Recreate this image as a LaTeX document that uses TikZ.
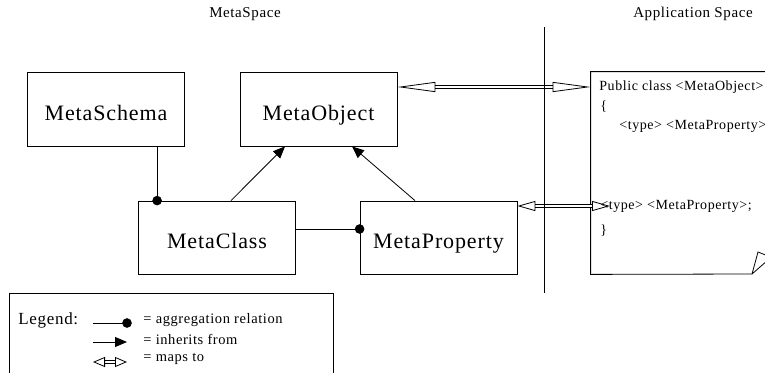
\documentclass[tikz,border=0pt]{standalone}
\usepackage{fontspec}
\setmainfont[LetterSpace=4]{Liberation Serif}
\usetikzlibrary{arrows.meta,calc}

\begin{document}
\begin{tikzpicture}[x=1pt, y=-1pt, line width=0.8pt,
    box/.style = {draw, rectangle, minimum width=157pt, minimum height=74pt,
                  text height=22pt, text depth=0pt, font=\fontsize{22}{26}\selectfont},
    agg/.style = {-{Circle[length=9.5pt]}, shorten >=-4.75pt},
    inh/.style = {-{Triangle[length=12pt, width=10pt]}},
    maps/.style = {double, double distance=2pt,
                   {Triangle[open, length=#1, width=10pt]}-{Triangle[open, length=#1, width=10pt]}},
    maps/.default = 38pt,
    txt/.style = {inner sep=0pt, anchor=west, font=\fontsize{14}{17}\selectfont}]
    \useasboundingbox (0,0) rectangle (765,372);
    \clip (0,0) rectangle (765,372);

    % titles
    \node[font=\fontsize{15}{18}\selectfont] (metaspace) at (245,14) {MetaSpace};
    \node[font=\fontsize{15}{18}\selectfont] (appspace) at (693,14) {Application Space};

    % meta classes
    \node[box] (schema) at (106,109) {MetaSchema};
    \node[box] (object) at (318.5,109) {MetaObject};
    \node[box, minimum height=73pt] (class) at (217,237.5) {MetaClass};
    \node[box, minimum height=73pt] (property) at (438.5,237.5) {MetaProperty};

    % application code page
    \node[minimum width=184pt, minimum height=202pt] (app) at (683,173) {};
    \coordinate (fold) at (752,274);
    \draw (fold) -- (app.south west) -- (app.north west) -- (app.north east);
    \draw (fold) -- ++(6,-22) -- ++(10,4) (fold) -- ++(16,-14);
    \node[txt] (decl) at (599,87) {Public class <MetaObject>};
    \node[txt] (open) at (600,107) {\{};
    \node[txt] (field) at (619,126) {<type> <MetaProperty>};
    \node[txt] (ref) at (600,206) {<type> <MetaProperty>;};
    \node[txt] (close) at (600,231) {\}};

    \coordinate (c1) at ($(class.north west)+(19,0)$);
    \draw[agg] (c1 |- schema.south) -- (c1);
    \draw[agg] ([yshift=8.5pt]class.east) -- ([yshift=8.5pt]property.west);
    \draw[inh] ([xshift=14pt]class.north) -- ([xshift=-33.5pt]object.south);
    \draw[inh] ([xshift=-23.5pt]property.north) -- ([xshift=33.5pt]object.south);

    \draw[maps] (decl.west -| object.east) -- (decl.west -| app.west);
    \draw[maps=18pt] (ref.west -| property.east) -- ([xshift=10pt]ref.west);

    % border between the two spaces
    \coordinate (top) at (544,27);
    \coordinate (bottom) at (544,293);
    \draw (top) -- (bottom);

    % legend
    \node[draw, anchor=north west, minimum width=324pt, minimum height=90pt] (legendbox) at (9,293) {};
    \node[txt, font=\fontsize{17}{20}\selectfont] (legend) at (18,320) {Legend:};
    \coordinate (a1) at (93,323);
    \coordinate (a2) at (127,323);
    \coordinate (i1) at (93,342);
    \coordinate (i2) at (127,342);
    \coordinate (m1) at (93,362);
    \coordinate (m2) at (127,362);
    \draw[agg] (a1) -- (a2);
    \draw[inh] (i1) -- (i2);
    \draw[maps=12pt] (m1) -- (m2);
    \node[txt, font=\fontsize{14.5}{17}\selectfont] (aggtxt) at (143,320) {= aggregation relation};
    \node[txt, font=\fontsize{14.5}{17}\selectfont] (inhtxt) at (143,339) {= inherits from};
    \node[txt, font=\fontsize{14.5}{17}\selectfont] (mapstxt) at (143,359) {= maps to};
\end{tikzpicture}
\end{document}
